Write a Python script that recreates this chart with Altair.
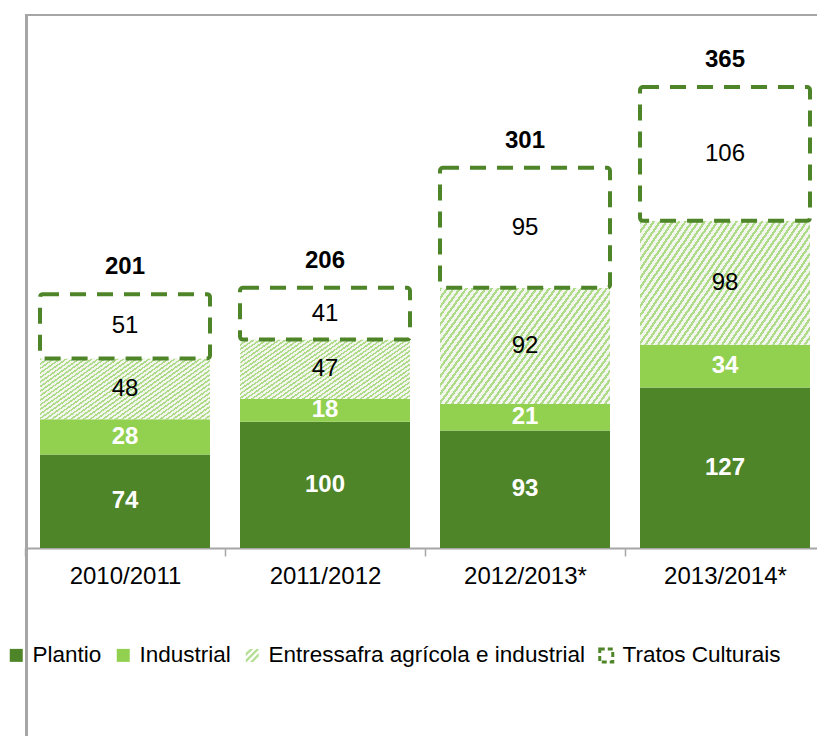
import altair as alt
import pandas as pd

# ---------------- data ----------------
years = ["2010/2011", "2011/2012", "2012/2013*", "2013/2014*"]
series = ["Plantio", "Industrial", "Entressafra agrícola e industrial", "Tratos Culturais"]
plantio = [74, 100, 93, 127]
industrial = [28, 18, 21, 34]
entressafra = [48, 47, 92, 98]
tratos = [51, 41, 95, 106]

rows = []
for i, yr in enumerate(years):
    base = 0
    for s, vals in zip(series, [plantio, industrial, entressafra, tratos]):
        v = vals[i]
        rows.append(dict(year=yr, series=s, value=v, y0=base, y1=base + v, mid=base + v / 2))
        base += v
df = pd.DataFrame(rows)
totals = pd.DataFrame({"year": years,
                       "total": [a + b + c + d for a, b, c, d in zip(plantio, industrial, entressafra, tratos)]})
deco = pd.DataFrame({"k": [0]})

# ---------------- style ----------------
FONT = "Liberation Sans"
DARK = "#4F8529"
LIGHT = "#92D050"
HATCH_FG = "#ADDB88"
HATCH_BG = "#F3F5EF"
GREY = "#A6A6A6"

stops = []
n = 40
for k in range(n):
    a = k / n
    b = (k + 0.42) / n
    c = (k + 1) / n
    stops += [{"offset": a, "color": HATCH_FG}, {"offset": b, "color": HATCH_FG},
              {"offset": b, "color": HATCH_BG}, {"offset": c, "color": HATCH_BG}]
hatch = {"gradient": "linear", "x1": 0, "y1": 0, "x2": 1.2, "y2": 0.6, "stops": stops}

HATCH_PATH = ("M-1,0.65L0.65,-1L1,-1L1,-0.85L-0.85,1L-1,1Z"
              "M-0.35,1L1,-0.35L1,0.15L0.15,1Z"
              "M-1,-0.35L-0.35,-1L0.15,-1L-1,0.15Z")

xenc = alt.X("year:N", sort=years,
             scale=alt.Scale(domain=years, paddingInner=0.15, paddingOuter=0.075),
             axis=alt.Axis(title=None, labelAngle=0, labelFont=FONT, labelFontSize=24,
                           labelColor="black", domainColor=GREY, domainWidth=2,
                           tickColor=GREY, tickWidth=1.5, tickSize=8,
                           tickOffset=-100, labelOffset=100, labelPadding=8))
yscale = alt.Scale(domain=[0, 422], nice=False, zero=True)

base = alt.Chart(df)

leg = alt.Legend(title=None, orient="none", legendX=-20, legendY=629, direction="horizontal",
                 columns=4,
                 symbolType={"expr": "datum.label === 'Entressafra agrícola e industrial' ? '"
                                     + HATCH_PATH + "' : 'square'"},
                 symbolSize=169,
                 symbolStrokeColor={"expr": "datum.label === 'Tratos Culturais' ? '#4F8529' : 'transparent'"},
                 symbolStrokeWidth=3,
                 symbolDash={"expr": "datum.label === 'Tratos Culturais' ? [5, 3] : [1, 0]"},
                 labelFont=FONT, labelFontSize=22.5, labelColor="black", labelOffset=5,
                 columnPadding=8, padding=0, labelLimit=600)

solid = base.transform_filter(
    alt.FieldOneOfPredicate(field="series", oneOf=["Plantio", "Industrial"])
).mark_bar().encode(
    x=xenc,
    y=alt.Y("y0:Q", scale=yscale, axis=None),
    y2="y1:Q",
    fill=alt.Fill("series:N", scale=alt.Scale(domain=series,
                                               range=[DARK, LIGHT, "#B5DE92", "white"]),
                  legend=leg),
)

hatched = base.transform_filter(
    alt.datum.series == "Entressafra agrícola e industrial"
).mark_bar(fill=hatch).encode(x=xenc, y=alt.Y("y0:Q", scale=yscale, axis=None), y2="y1:Q")

dashed = base.transform_filter(
    alt.datum.series == "Tratos Culturais"
).mark_bar(fill="white", stroke=DARK, strokeWidth=4, strokeDash=[16, 11], cornerRadius=3
).encode(x=xenc, y=alt.Y("y0:Q", scale=yscale, axis=None), y2="y1:Q")

white_lbl = base.transform_filter(
    alt.FieldOneOfPredicate(field="series", oneOf=["Plantio", "Industrial"])
).mark_text(color="white", fontWeight="bold", fontSize=24, font=FONT, baseline="middle"
).encode(x=xenc, y=alt.Y("mid:Q", scale=yscale, axis=None), text="value:Q")

black_lbl = base.transform_filter(
    alt.FieldOneOfPredicate(field="series",
                            oneOf=["Entressafra agrícola e industrial", "Tratos Culturais"])
).mark_text(color="black", fontSize=24, font=FONT, baseline="middle"
).encode(x=xenc, y=alt.Y("mid:Q", scale=yscale, axis=None), text="value:Q")

tot_lbl = alt.Chart(totals).mark_text(color="black", fontWeight="bold", fontSize=24, font=FONT,
                                      baseline="middle", dy=-27
).encode(x=xenc, y=alt.Y("total:Q", scale=yscale, axis=None), text="total:Q")

vline = alt.Chart(deco).mark_rule(color=GREY, strokeWidth=3).encode(
    x=alt.value(1.5), y=alt.value(-1), y2=alt.value(725))
hline = alt.Chart(deco).mark_rule(color=GREY, strokeWidth=2).encode(
    x=alt.value(0), x2=alt.value(800), y=alt.value(0))

chart = alt.layer(hline, solid, hatched, dashed, white_lbl, black_lbl, tot_lbl, vline).properties(
    width=800, height=533,
    autosize=alt.AutoSizeParams(type="none"),
    padding={"left": 17, "top": 7, "right": -8, "bottom": 188},
).configure_view(stroke=None)

chart.save("out.html", embed_options={"renderer": "svg", "actions": False})
